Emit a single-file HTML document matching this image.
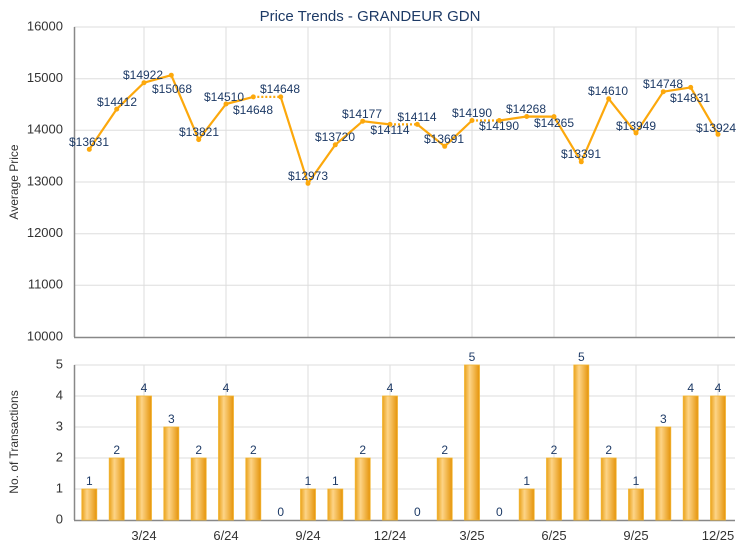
<!DOCTYPE html>
<html><head><meta charset="utf-8"><style>
body{margin:0;background:#fff}
svg{display:block;font-family:"Liberation Sans",sans-serif}
.pl{font-size:12px;fill:#1d3a66;text-anchor:middle;dominant-baseline:middle}
.yl{font-size:13px;fill:#333;text-anchor:end;dominant-baseline:middle}
.xl{font-size:13px;fill:#333;text-anchor:middle}
.bl{font-size:12px;fill:#1d3a66;text-anchor:middle}
</style></head><body>
<svg width="740" height="550" viewBox="0 0 740 550">
<defs><linearGradient id="g" x1="0" x2="1" y1="0" y2="0">
<stop offset="0" stop-color="#eaa21a"/><stop offset="0.35" stop-color="#fdd487"/><stop offset="1" stop-color="#e5940a"/></linearGradient></defs>
<text x="370" y="21" font-size="15" fill="#1d3a66" text-anchor="middle">Price Trends - GRANDEUR GDN</text>
<g stroke="#ddd" stroke-width="1">
<line x1="74" x2="735" y1="27" y2="27"/><line x1="74" x2="735" y1="78.7" y2="78.7"/><line x1="74" x2="735" y1="130.3" y2="130.3"/><line x1="74" x2="735" y1="182" y2="182"/><line x1="74" x2="735" y1="233.7" y2="233.7"/><line x1="74" x2="735" y1="285.3" y2="285.3"/>
<line x1="144" x2="144" y1="27" y2="337"/><line x1="226" x2="226" y1="27" y2="337"/><line x1="308" x2="308" y1="27" y2="337"/><line x1="390" x2="390" y1="27" y2="337"/><line x1="472" x2="472" y1="27" y2="337"/><line x1="554" x2="554" y1="27" y2="337"/><line x1="636" x2="636" y1="27" y2="337"/><line x1="718" x2="718" y1="27" y2="337"/>
<line x1="74" x2="735" y1="365" y2="365"/><line x1="74" x2="735" y1="396" y2="396"/><line x1="74" x2="735" y1="427" y2="427"/><line x1="74" x2="735" y1="458" y2="458"/><line x1="74" x2="735" y1="489" y2="489"/>
<line x1="144" x2="144" y1="365" y2="520"/><line x1="226" x2="226" y1="365" y2="520"/><line x1="308" x2="308" y1="365" y2="520"/><line x1="390" x2="390" y1="365" y2="520"/><line x1="472" x2="472" y1="365" y2="520"/><line x1="554" x2="554" y1="365" y2="520"/><line x1="636" x2="636" y1="365" y2="520"/><line x1="718" x2="718" y1="365" y2="520"/>
</g>
<g stroke="#888" stroke-width="1.5"><line x1="74.5" x2="74.5" y1="27" y2="337"/><line x1="74" x2="735" y1="337.5" y2="337.5"/><line x1="74.5" x2="74.5" y1="365" y2="520"/><line x1="74" x2="735" y1="520.5" y2="520.5"/></g>
<g class="yl"><text x="63" y="27">16000</text><text x="63" y="78.7">15000</text><text x="63" y="130.3">14000</text><text x="63" y="182">13000</text><text x="63" y="233.7">12000</text><text x="63" y="285.3">11000</text><text x="63" y="337">10000</text>
<text x="63" y="365">5</text><text x="63" y="396">4</text><text x="63" y="427">3</text><text x="63" y="458">2</text><text x="63" y="489">1</text><text x="63" y="520">0</text></g>
<text transform="translate(18,182) rotate(-90)" font-size="12" fill="#333" text-anchor="middle">Average Price</text>
<text transform="translate(18,442) rotate(-90)" font-size="12" fill="#333" text-anchor="middle">No. of Transactions</text>
<g class="xl"><text x="144" y="540">3/24</text><text x="226" y="540">6/24</text><text x="308" y="540">9/24</text><text x="390" y="540">12/24</text><text x="472" y="540">3/25</text><text x="554" y="540">6/25</text><text x="636" y="540">9/25</text><text x="718" y="540">12/25</text></g>
<g fill="none" stroke="#fca80c" stroke-width="2.2" stroke-linejoin="round">
<polyline points="89.3,149.4 116.7,109.1 144,82.7 171.3,75.2 198.7,139.6 226,104 253.3,96.9"/>
<polyline points="280.7,96.9 308,183.4 335.3,144.8 362.7,121.2 390,124.4"/>
<polyline points="417.3,124.4 444.7,146.3 472,120.5"/>
<polyline points="499.3,120.5 526.7,116.5 554,116.6 581.3,161.8 608.7,98.8 636,133 663.3,91.7 690.7,87.4 718,134.3"/>
<g stroke-dasharray="2,2"><line x1="253.3" y1="96.9" x2="280.7" y2="96.9"/><line x1="390" y1="124.4" x2="417.3" y2="124.4"/><line x1="472" y1="120.5" x2="499.3" y2="120.5"/></g>
</g>
<g fill="#fca80c"><circle cx="89.3" cy="149.4" r="2.5"/><circle cx="116.7" cy="109.1" r="2.5"/><circle cx="144" cy="82.7" r="2.5"/><circle cx="171.3" cy="75.2" r="2.5"/><circle cx="198.7" cy="139.6" r="2.5"/><circle cx="226" cy="104" r="2.5"/><circle cx="253.3" cy="96.9" r="2.5"/><circle cx="280.7" cy="96.9" r="2.5"/><circle cx="308" cy="183.4" r="2.5"/><circle cx="335.3" cy="144.8" r="2.5"/><circle cx="362.7" cy="121.2" r="2.5"/><circle cx="390" cy="124.4" r="2.5"/><circle cx="417.3" cy="124.4" r="2.5"/><circle cx="444.7" cy="146.3" r="2.5"/><circle cx="472" cy="120.5" r="2.5"/><circle cx="499.3" cy="120.5" r="2.5"/><circle cx="526.7" cy="116.5" r="2.5"/><circle cx="554" cy="116.6" r="2.5"/><circle cx="581.3" cy="161.8" r="2.5"/><circle cx="608.7" cy="98.8" r="2.5"/><circle cx="636" cy="133" r="2.5"/><circle cx="663.3" cy="91.7" r="2.5"/><circle cx="690.7" cy="87.4" r="2.5"/><circle cx="718" cy="134.3" r="2.5"/></g>
<g class="pl">
<text x="89" y="143">$13631</text><text x="117" y="103">$14412</text><text x="143" y="76">$14922</text><text x="172" y="90">$15068</text><text x="199" y="133">$13821</text><text x="224" y="98">$14510</text><text x="253" y="111">$14648</text><text x="280" y="90">$14648</text><text x="308" y="177">$12973</text><text x="335" y="138">$13720</text><text x="362" y="115">$14177</text><text x="390" y="131">$14114</text><text x="417" y="118">$14114</text><text x="444" y="140">$13691</text><text x="472" y="114">$14190</text><text x="499" y="127">$14190</text><text x="526" y="110">$14268</text><text x="554" y="124">$14265</text><text x="581" y="155">$13391</text><text x="608" y="92">$14610</text><text x="636" y="127">$13949</text><text x="663" y="85">$14748</text><text x="690" y="99">$14831</text><text x="716" y="129">$13924</text>
</g>
<g fill="url(#g)" stroke="#f2b431" stroke-width="0.8">
<rect x="81.8" y="489" width="15" height="31"/><rect x="109.2" y="458" width="15" height="62"/><rect x="136.5" y="396" width="15" height="124"/><rect x="163.8" y="427" width="15" height="93"/><rect x="191.2" y="458" width="15" height="62"/><rect x="218.5" y="396" width="15" height="124"/><rect x="245.8" y="458" width="15" height="62"/><rect x="300.5" y="489" width="15" height="31"/><rect x="327.8" y="489" width="15" height="31"/><rect x="355.2" y="458" width="15" height="62"/><rect x="382.5" y="396" width="15" height="124"/><rect x="437.2" y="458" width="15" height="62"/><rect x="464.5" y="365" width="15" height="155"/><rect x="519.2" y="489" width="15" height="31"/><rect x="546.5" y="458" width="15" height="62"/><rect x="573.8" y="365" width="15" height="155"/><rect x="601.2" y="458" width="15" height="62"/><rect x="628.5" y="489" width="15" height="31"/><rect x="655.8" y="427" width="15" height="93"/><rect x="683.2" y="396" width="15" height="124"/><rect x="710.5" y="396" width="15" height="124"/>
</g>
<g class="bl">
<text x="89.3" y="485">1</text><text x="116.7" y="454">2</text><text x="144" y="392">4</text><text x="171.3" y="423">3</text><text x="198.7" y="454">2</text><text x="226" y="392">4</text><text x="253.3" y="454">2</text><text x="280.7" y="516">0</text><text x="308" y="485">1</text><text x="335.3" y="485">1</text><text x="362.7" y="454">2</text><text x="390" y="392">4</text><text x="417.3" y="516">0</text><text x="444.7" y="454">2</text><text x="472" y="361">5</text><text x="499.3" y="516">0</text><text x="526.7" y="485">1</text><text x="554" y="454">2</text><text x="581.3" y="361">5</text><text x="608.7" y="454">2</text><text x="636" y="485">1</text><text x="663.3" y="423">3</text><text x="690.7" y="392">4</text><text x="718" y="392">4</text>
</g>
</svg>
</body></html>
